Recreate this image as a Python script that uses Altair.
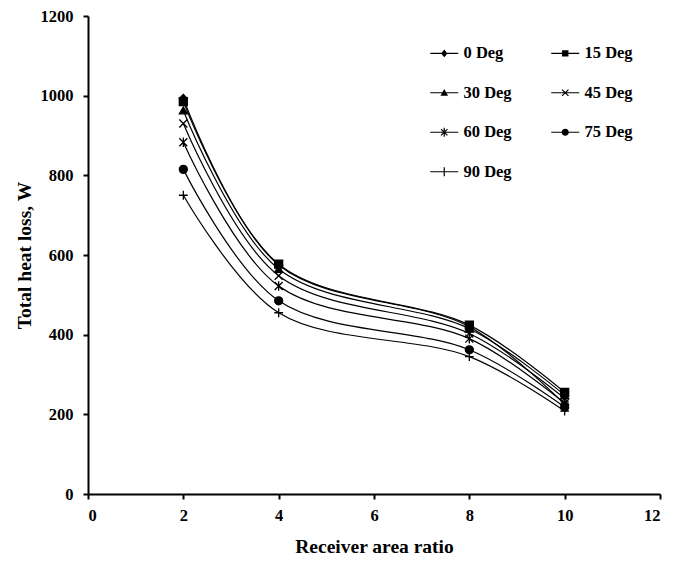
import altair as alt
import pandas as pd

# ---- data ----
ratio = [2, 4, 8, 10]
series_names = ["0 Deg", "15 Deg", "30 Deg", "45 Deg", "60 Deg", "75 Deg", "90 Deg"]
deg_0 = [993, 575, 420, 225]
deg_15 = [985, 577, 424, 255]
deg_30 = [963, 565, 415, 248]
deg_45 = [930, 548, 403, 240]
deg_60 = [883, 522, 390, 228]
deg_75 = [815, 485, 362, 218]
deg_90 = [750, 455, 345, 208]

x_ticks = [0, 2, 4, 6, 8, 10, 12]
y_ticks = [0, 200, 400, 600, 800, 1000, 1200]

all_series = [deg_0, deg_15, deg_30, deg_45, deg_60, deg_75, deg_90]
rows = []
for name, vals in zip(series_names, all_series):
    for xv, yv in zip(ratio, vals):
        rows.append({"Series": name, "Legend": name, "Ratio": xv, "Loss": yv})
df = pd.DataFrame(rows)

# marker shapes (unit box -1..1)
marker_paths = [
    "diamond",
    "square",
    "triangle-up",
    "M-1,-1L1,1M-1,1L1,-1",
    "M-1,-1L1,1M-1,1L1,-1M0,-1.2L0,1.2",
    "circle",
    "M-1.1,0L1.1,0M0,-1.1L0,1.1",
]

# legend symbols: filled outlines only (line through marker), all clockwise
LINE = "M-3.5,-0.15L3.5,-0.15L3.5,0.15L-3.5,0.15Z"
DIAG1 = "M-0.694,-0.906L0.906,0.694L0.694,0.906L-0.906,-0.694Z"
DIAG2 = "M-0.906,0.694L0.694,-0.906L0.906,-0.694L-0.694,0.906Z"
VERT = "M-0.15,-1.1L0.15,-1.1L0.15,1.1L-0.15,1.1Z"
legend_paths = [
    LINE + "M0,-0.95L0.8,0L0,0.95L-0.8,0Z",
    LINE + "M-0.8,-0.8L0.8,-0.8L0.8,0.8L-0.8,0.8Z",
    LINE + "M0,-0.95L0.95,0.75L-0.95,0.75Z",
    LINE + DIAG1 + DIAG2,
    LINE + DIAG1 + DIAG2 + VERT,
    LINE + "M-0.9,0A0.9,0.9,0,1,1,0.9,0A0.9,0.9,0,1,1,-0.9,0Z",
    LINE + VERT,
]

FONT = "Liberation Serif"

x_enc = alt.X(
    "Ratio:Q",
    scale=alt.Scale(domain=[0, 12], nice=False, zero=True),
    axis=alt.Axis(values=x_ticks, title="Receiver area ratio", format="d"),
)
y_enc = alt.Y(
    "Loss:Q",
    scale=alt.Scale(domain=[0, 1200], nice=False),
    axis=alt.Axis(values=y_ticks, title="Total heat loss, W", format="d"),
)

base = alt.Chart(df)

lines = base.mark_line(interpolate="catmull-rom", color="black", strokeWidth=1.2).encode(
    x=x_enc, y=y_enc, detail="Series:N"
)

points = base.mark_point(
    fill="black", stroke="black", strokeWidth=1.3, size=64, opacity=1
).encode(
    x=x_enc,
    y=y_enc,
    shape=alt.Shape(
        "Series:N",
        scale=alt.Scale(domain=series_names, range=marker_paths),
        legend=None,
    ),
)

legend_layer = base.mark_point(filled=True, color="black", size=64, opacity=0).encode(
    x=x_enc,
    y=y_enc,
    shape=alt.Shape(
        "Legend:N",
        scale=alt.Scale(domain=series_names, range=legend_paths),
        legend=alt.Legend(
            title=None,
            orient="none",
            direction="horizontal",
            legendX=348,
            legendY=29,
            columns=2,
            padding=0,
            symbolSize=64,
            symbolOpacity=1,
            symbolFillColor="black",
            symbolStrokeWidth=0,
            labelOffset=11,
            columnPadding=39,
            rowPadding=22.5,
            labelFont=FONT,
            labelFontWeight="bold",
            labelFontSize=16.5,
            labelColor="black",
        ),
    ),
)

chart = (
    alt.layer(lines, points, legend_layer)
    .resolve_scale(shape="independent")
    .properties(
        width=572,
        height=478,
        autosize="none",
        padding={"left": 88, "top": 16, "right": 33, "bottom": 70},
    )
    .configure_view(stroke=None)
    .configure_axis(
        grid=False,
        domainColor="black",
        domainWidth=2,
        tickColor="black",
        tickWidth=2,
        tickSize=5,
        labelFont=FONT,
        labelFontWeight="bold",
        labelFontSize=16.5,
        labelColor="black",
        titleFont=FONT,
        titleFontWeight="bold",
        titleFontSize=19.5,
        titleColor="black",
    )
    .configure_axisX(labelPadding=8, titlePadding=14)
    .configure_axisY(labelPadding=10, titlePadding=6)
)

chart.save("out.html", embed_options={"renderer": "svg", "actions": False})
